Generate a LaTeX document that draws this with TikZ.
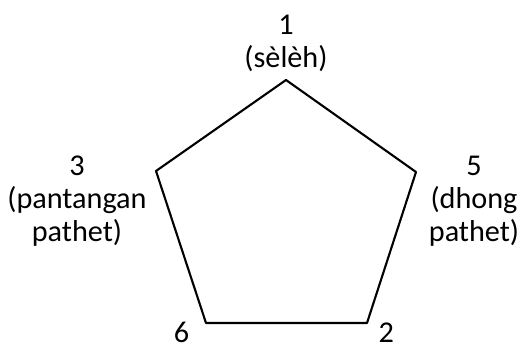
\documentclass[tikz,border=0pt]{standalone}
\usepackage{fontspec}
\setmainfont{Carlito}
\usepackage{tkz-euclide}

\begin{document}
\begin{tikzpicture}[scale=1]
\tikzset{notelbl/.style={inner sep=0pt,align=center,font=\fontsize{21.5}{23.5}\selectfont}}
\useasboundingbox (0,0) rectangle (13,8.725);
\tkzSetUpLine[line width=1.5pt,color=black]

\tkzDefPoints{7.15/6.725/N1,10.4/4.425/N5,9.175/0.65/N2,5.15/0.65/N6,3.9/4.45/N3}

\tkzDrawPolygon[line width=1.5pt,color=black](N1,N5,N2,N6,N3)

\node[notelbl] (lbl1) at (7.15,7.65) {1\\(sèlèh)};
\node[notelbl] (lbl3) at (1.925,3.7) {3\\(pantangan\\pathet)};
\node[notelbl] (lbl5) at (11.85,3.7) {5\\(dhong\\pathet)};
\node[notelbl] (lbl6) at (4.54,0.41) {6};
\node[notelbl] (lbl2) at (9.66,0.41) {2};

\end{tikzpicture}
\end{document}
